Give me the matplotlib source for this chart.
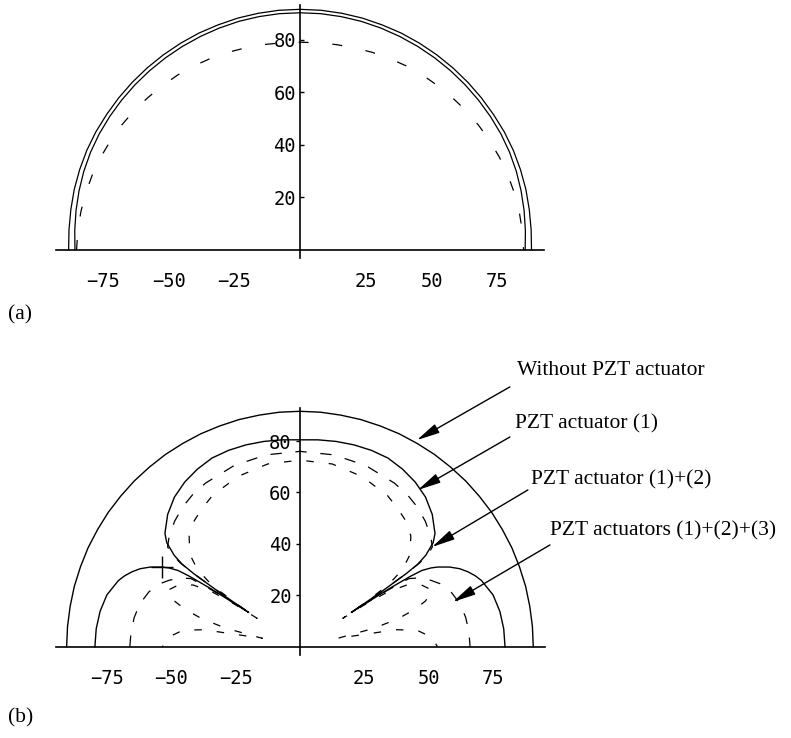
import numpy as np
import matplotlib.pyplot as plt

# Radiation patterns, angle measured from the vertical axis (degrees).
# Only one half is listed, the other half is the mirror image.

# (a) patterns
a_theta = [0, 5, 10, 15, 20, 25, 30, 35, 40, 45, 50, 55, 60, 65, 70, 75, 80, 85, 90]
a_outer = [91.5, 91.5, 91.4, 91.3, 91.1, 91.0, 90.8, 90.6, 90.4, 90.2, 90.0, 89.8,
           89.7, 89.5, 89.2, 88.9, 88.5, 88.2, 88.0]
a_inner = [90.2, 90.2, 90.1, 90.0, 89.8, 89.6, 89.4, 89.2, 89.0, 88.8, 88.6, 88.4,
           88.2, 87.9, 87.5, 87.0, 86.5, 86.0, 85.6]
a_dashed = [79.0, 79.1, 79.3, 79.6, 80.0, 80.4, 80.8, 81.2, 81.5, 81.9, 82.4, 82.8,
            83.2, 83.6, 84.0, 84.3, 84.6, 84.8, 85.0]

# (b) without PZT actuator
b0_theta = [0, 5, 10, 15, 20, 25, 30, 35, 40, 45, 50, 55, 60, 65, 70, 75, 80, 85, 90]
b0_r = [91.6, 91.6, 91.5, 91.5, 91.4, 91.4, 91.3, 91.3, 91.2, 91.2, 91.1, 91.1,
        91.0, 91.0, 90.9, 90.9, 90.8, 90.8, 90.8]

# (b) PZT actuator (1)
b1_theta = [0, 5, 10, 15, 20, 25, 30, 35, 40, 45, 50, 52, 54, 55, 55.5, 56, 56.3,
            56.6, 57, 57.5, 58, 59, 60, 62, 64, 66, 68, 70, 75, 80, 85, 90]
b1_r = [80.5, 80.8, 81.1, 81.3, 81.3, 81.0, 79.8, 78.2, 76.0, 72.8, 68.6, 65.8,
        60.5, 56.0, 50.0, 38.0, 24.0, 30.0, 42.0, 51.0, 56.0, 59.5, 62.0, 66.0,
        69.2, 71.6, 73.6, 75.2, 77.8, 79.0, 79.6, 79.8]

# (b) PZT actuator (1)+(2)
b2_theta = [0, 10, 20, 30, 35, 40, 45, 50, 53, 54, 55, 55.5, 56, 56.3, 56.7, 57,
            58, 60, 63, 66, 70, 75, 80, 85, 90]
b2_r = [76.0, 75.8, 75.0, 73.5, 72.5, 71.0, 69.0, 66.5, 64.5, 62.0, 57.0, 50.0,
        35.0, 24.0, 32.0, 38.0, 50.0, 53.5, 57.0, 60.0, 62.5, 64.5, 65.5, 66.0, 66.2]

# (b) PZT actuators (1)+(2)+(3)
b3_theta = [0, 10, 20, 30, 35, 40, 45, 50, 53, 55, 56, 56.5, 57, 58, 60, 63, 67,
            70, 72, 74, 76, 77.5, 78.5, 80, 82, 86, 90]
b3_r = [72.6, 72.2, 70.5, 68.0, 66.0, 64.0, 61.0, 56.0, 50.0, 42.0, 30.0, 20.0,
        30.0, 40.0, 48.0, 53.0, 56.0, 52.0, 47.0, 40.0, 30.0, 15.0, 20.0, 38.0,
        46.0, 51.5, 53.5]

x_ticks = [-75, -50, -25, 25, 50, 75]
y_ticks = [20, 40, 60, 80]

labels_b = ['Without PZT actuator', 'PZT actuator (1)',
            'PZT actuator (1)+(2)', 'PZT actuators (1)+(2)+(3)']


def mirror(theta, r):
    th = np.concatenate([-np.array(theta[::-1]), np.array(theta[1:])])
    rr = np.concatenate([np.array(r[::-1]), np.array(r[1:])])
    return th, rr


def to_xy(theta, r):
    th, rr = mirror(theta, r)
    th = np.radians(th)
    return rr * np.sin(th), rr * np.cos(th)


def style_axes(ax, xlim, ylim, tick_dir):
    ax.set_xlim(*xlim)
    ax.set_ylim(*ylim)
    for side in ['top', 'right']:
        ax.spines[side].set_visible(False)
    ax.spines['left'].set_position(('data', 0))
    ax.spines['bottom'].set_position(('data', 0))
    ax.spines['left'].set_linewidth(1.2)
    ax.spines['bottom'].set_linewidth(1.2)
    ax.set_xticks(x_ticks)
    ax.set_yticks(y_ticks)
    ax.tick_params(axis='x', length=0, pad=16)
    ax.tick_params(axis='y', length=3, width=1, direction=tick_dir, pad=3)
    for lab in ax.get_xticklabels() + ax.get_yticklabels():
        lab.set_fontfamily('DejaVu Sans Mono')
        lab.set_fontsize(13.5)
    ax.patch.set_alpha(0)


W, H = 791, 738
fig = plt.figure(figsize=(W / 100, H / 100), dpi=100)

# ---- panel (a) ----
ax_a = fig.add_axes([56 / W, 1 - 258.4 / H, 487.6 / W, 253 / H])
style_axes(ax_a, (-92.8, 92.6), (-3.2, 93), 'in')
for r in [a_outer, a_inner]:
    x, y = to_xy(a_theta, r)
    ax_a.plot(x, y, color='black', lw=0.9)
x, y = to_xy(a_theta, a_dashed)
ax_a.plot(x, y, color='black', lw=0.9, linestyle=(0, (8, 19)))

# ---- panel (b) ----
ax_b = fig.add_axes([55.85 / W, 1 - 654.9 / H, 489 / W, 247.2 / H])
style_axes(ax_b, (-95, 95.3), (-3.2, 93), 'out')

x0, y0 = to_xy(b0_theta, b0_r)
ax_b.plot(x0, y0, color='black', lw=1.0)
x1, y1 = to_xy(b1_theta, b1_r)
ax_b.plot(x1, y1, color='black', lw=1.0)
x2, y2 = to_xy(b2_theta, b2_r)
ax_b.plot(x2, y2, color='black', lw=0.9, linestyle=(0, (9, 11)))
x3, y3 = to_xy(b3_theta, b3_r)
ax_b.plot(x3, y3, color='black', lw=0.9, linestyle=(5, (6, 12)))

# small cross on top of the left side lobe
th1, _ = mirror(b1_theta, b1_r)
lobe = th1 <= -57
i_peak = np.argmax(np.where(lobe, y1, -1))
ax_b.plot(x1[i_peak], y1[i_peak], marker='+', color='black', ms=16, mew=1.0)

# annotations with arrows
serif = 'Liberation Serif'
text_pos = [(84.4, 105.7), (83.7, 85.1), (89.9, 63.3), (97.3, 43.1)]
arrow_tail = [(81.7, 101.1), (81.7, 81.6), (88.7, 61.0), (97.3, 39.6)]
arrow_tip = [(45.5, 80.4), (45.9, 61.0), (51.4, 38.8), (59.5, 17.4)]
for lab, tp, tail, tip in zip(labels_b, text_pos, arrow_tail, arrow_tip):
    ax_b.text(tp[0], tp[1], lab, family=serif, fontsize=15.5, ha='left',
              va='baseline', clip_on=False)
    ax_b.annotate('', xy=tip, xytext=tail, annotation_clip=False,
                  arrowprops=dict(arrowstyle='-|>,head_length=1.4,head_width=0.3',
                                  mutation_scale=10, color='black', lw=1.0,
                                  shrinkA=0, shrinkB=0))

fig.text(8 / W, 1 - 315 / H, '(a)', family=serif, fontsize=15.5, va='center')
fig.text(8 / W, 1 - 718 / H, '(b)', family=serif, fontsize=15.5, va='center')

fig.savefig('out.png', dpi=100)
